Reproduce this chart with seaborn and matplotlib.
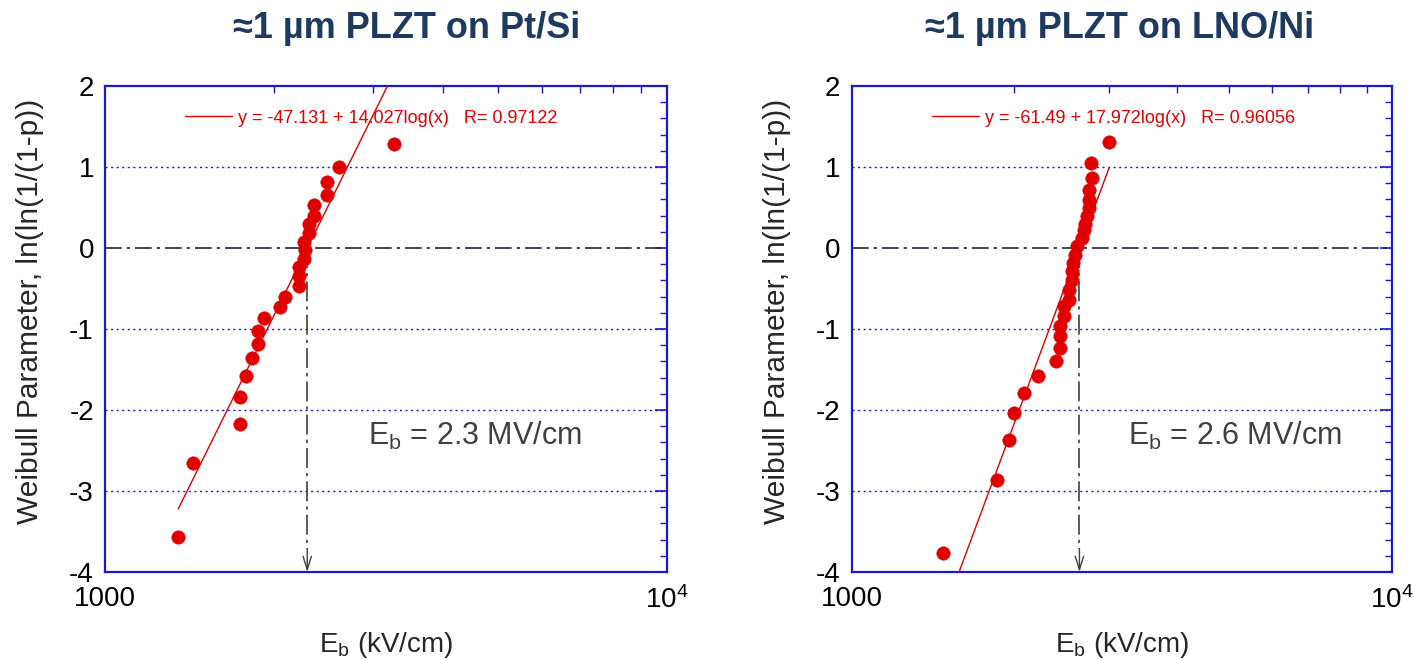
import matplotlib
matplotlib.use("Agg")
import matplotlib.pyplot as plt
from matplotlib import font_manager
from matplotlib.lines import Line2D
from matplotlib.ticker import FixedLocator, FixedFormatter, NullFormatter
import numpy as np
import pandas as pd
import seaborn as sns

# ---------------- data ----------------
titles = ["\u22481 \u00b5m PLZT on Pt/Si", "\u22481 \u00b5m PLZT on LNO/Ni"]

ptsi_eb = [1350, 1436, 1741, 1741, 1782, 1829, 1870, 1870, 1918, 2046, 2088,
           2216, 2216, 2216, 2260, 2269, 2260, 2307, 2307, 2352, 2352, 2480,
           2480, 2608, 3264]
ptsi_w = [-3.57, -2.66, -2.17, -1.84, -1.58, -1.36, -1.18, -1.02, -0.86, -0.73,
          -0.60, -0.47, -0.35, -0.24, -0.14, -0.03, 0.07, 0.18, 0.30, 0.40,
          0.53, 0.66, 0.81, 1.00, 1.28]

lno_eb = [1475, 1861, 1954, 1996, 2083, 2211, 2388, 2435, 2435, 2435, 2474,
          2474, 2520, 2527, 2556, 2563, 2574, 2593, 2612, 2668, 2695, 2706,
          2726, 2744, 2744, 2744, 2784, 2775, 2998]
lno_w = [-3.76, -2.86, -2.37, -2.04, -1.79, -1.58, -1.40, -1.24, -1.09, -0.96,
         -0.84, -0.72, -0.64, -0.52, -0.40, -0.29, -0.19, -0.09, 0.02, 0.12,
         0.22, 0.30, 0.39, 0.49, 0.59, 0.72, 0.87, 1.05, 1.31]

fit_a = [-47.131, -61.49]
fit_b = [14.027, 17.972]
fit_r = ["0.97122", "0.96056"]
eb_mark = [2290, 2640]
eb_text = ["2.3", "2.6"]

yticks = [-4, -3, -2, -1, 0, 1, 2]
xtick_labels = ["1000", "10$^{4}$"]

# ---------------- style ----------------
sns.set_theme(style="white")
avail = {f.name for f in font_manager.fontManager.ttflist}
base = "Liberation Sans" if "Liberation Sans" in avail else "DejaVu Sans"
narrow = "Liberation Sans Narrow" if "Liberation Sans Narrow" in avail else base
plt.rcParams["font.family"] = [base, "DejaVu Sans"]
plt.rcParams["mathtext.fontset"] = "custom"
plt.rcParams["mathtext.rm"] = base
plt.rcParams["mathtext.it"] = base

RED = "#e00000"
BLUE = "#1a1acc"
NAVY = "#1f3a60"
GREY = "#404040"

fig = plt.figure(figsize=(14.14, 6.6), dpi=100)
positions = [[105/1414, 88/660, 562/1414, 486/660],
             [851.6/1414, 88/660, 540.4/1414, 486/660]]
datasets = [(ptsi_eb, ptsi_w), (lno_eb, lno_w)]
legend_x = [0.142, 0.149]
eb_text_x = [0.468, 0.512]
title_x = [407/1414, 1120/1414]

for i in range(2):
    ax = fig.add_axes(positions[i])
    xs, ys = datasets[i]
    df = pd.DataFrame({"Eb": xs, "W": ys})

    # grid lines
    for yv in [-3, -2, -1, 1]:
        ax.axhline(yv, color=BLUE, lw=1.0, ls=(0, (1.5, 2.5)), zorder=1)
    ax.axhline(0, color="#222244", lw=1.2, ls=(0, (10, 3, 2, 3)), zorder=1)

    # fit line
    xf = np.array([min(xs), max(xs)])
    yf = fit_a[i] + fit_b[i] * np.log10(xf)
    fit_df = pd.DataFrame({"Eb": xf, "W": yf})
    sns.lineplot(data=fit_df, x="Eb", y="W", ax=ax, color=RED, lw=1.0,
                 zorder=3, legend=False)

    # points
    sns.scatterplot(data=df, x="Eb", y="W", ax=ax, color=RED, s=95,
                    edgecolor=RED, linewidth=0.3, zorder=4, legend=False)

    # Eb marker line + arrow
    ax.plot([eb_mark[i], eb_mark[i]], [0, -3.72], color=GREY, lw=1.2,
            ls=(0, (12, 3, 2, 3)), zorder=2)
    ax.annotate("", xy=(eb_mark[i], -4.0), xytext=(eb_mark[i], -3.72),
                arrowprops=dict(arrowstyle="->,head_length=0.8,head_width=0.25",
                                color=GREY, lw=1.0, shrinkA=0, shrinkB=0),
                zorder=2)

    ax.set_xscale("log")
    ax.set_xlim(1000, 10000)
    ax.set_ylim(-4, 2)

    ax.xaxis.set_major_locator(FixedLocator([1000, 10000]))
    ax.xaxis.set_major_formatter(FixedFormatter(xtick_labels))
    ax.xaxis.set_minor_locator(FixedLocator([k * 1000 for k in range(2, 10)]))
    ax.xaxis.set_minor_formatter(NullFormatter())
    ax.yaxis.set_major_locator(FixedLocator(yticks))
    ax.yaxis.set_minor_locator(FixedLocator(np.round(np.arange(-4, 2.01, 0.2), 2)))
    ax.set_yticklabels([str(t) for t in yticks])

    ax.tick_params(which="both", direction="in", top=True, right=True,
                   color=BLUE, labelsize=20, labelcolor="black")
    ax.tick_params(which="major", length=9, width=1.2, pad=8)
    ax.tick_params(which="minor", length=5, width=1.0)
    ax.tick_params(axis="x", which="major", length=0, pad=10)
    for sp in ax.spines.values():
        sp.set_color(BLUE)
        sp.set_linewidth(1.6)
        sp.set_visible(True)

    ax.set_xlabel("E$_\\mathrm{b}$ (kV/cm)", fontsize=20, labelpad=12)
    ax.set_ylabel("Weibull Parameter, ln(ln(1/(1-p))", fontsize=21.5)
    ax.yaxis.set_label_coords(-61 / (positions[i][2] * 1414), 0.537)

    # legend
    handle = Line2D([], [], color=RED, lw=1.0)
    lab = f"y = {fit_a[i]:g} + {fit_b[i]:g}log(x)   R= {fit_r[i]}"
    ax.legend([handle], [lab], loc="center left",
              bbox_to_anchor=(legend_x[i], 0.934), frameon=False,
              fontsize=13, labelcolor=RED, handlelength=2.6,
              handletextpad=0.35, borderpad=0, borderaxespad=0)

    ax.text(eb_text_x[i], 0.28, f"E$_\\mathrm{{b}}$ = {eb_text[i]} MV/cm",
            transform=ax.transAxes, fontsize=22, color=GREY, ha="left",
            va="center")

    fig.text(title_x[i], 1 - 29/660, titles[i], ha="center", va="center",
             fontsize=26, fontweight="bold", color=NAVY,
             family=[narrow, "DejaVu Sans"])

fig.savefig("out.png", dpi=100)
